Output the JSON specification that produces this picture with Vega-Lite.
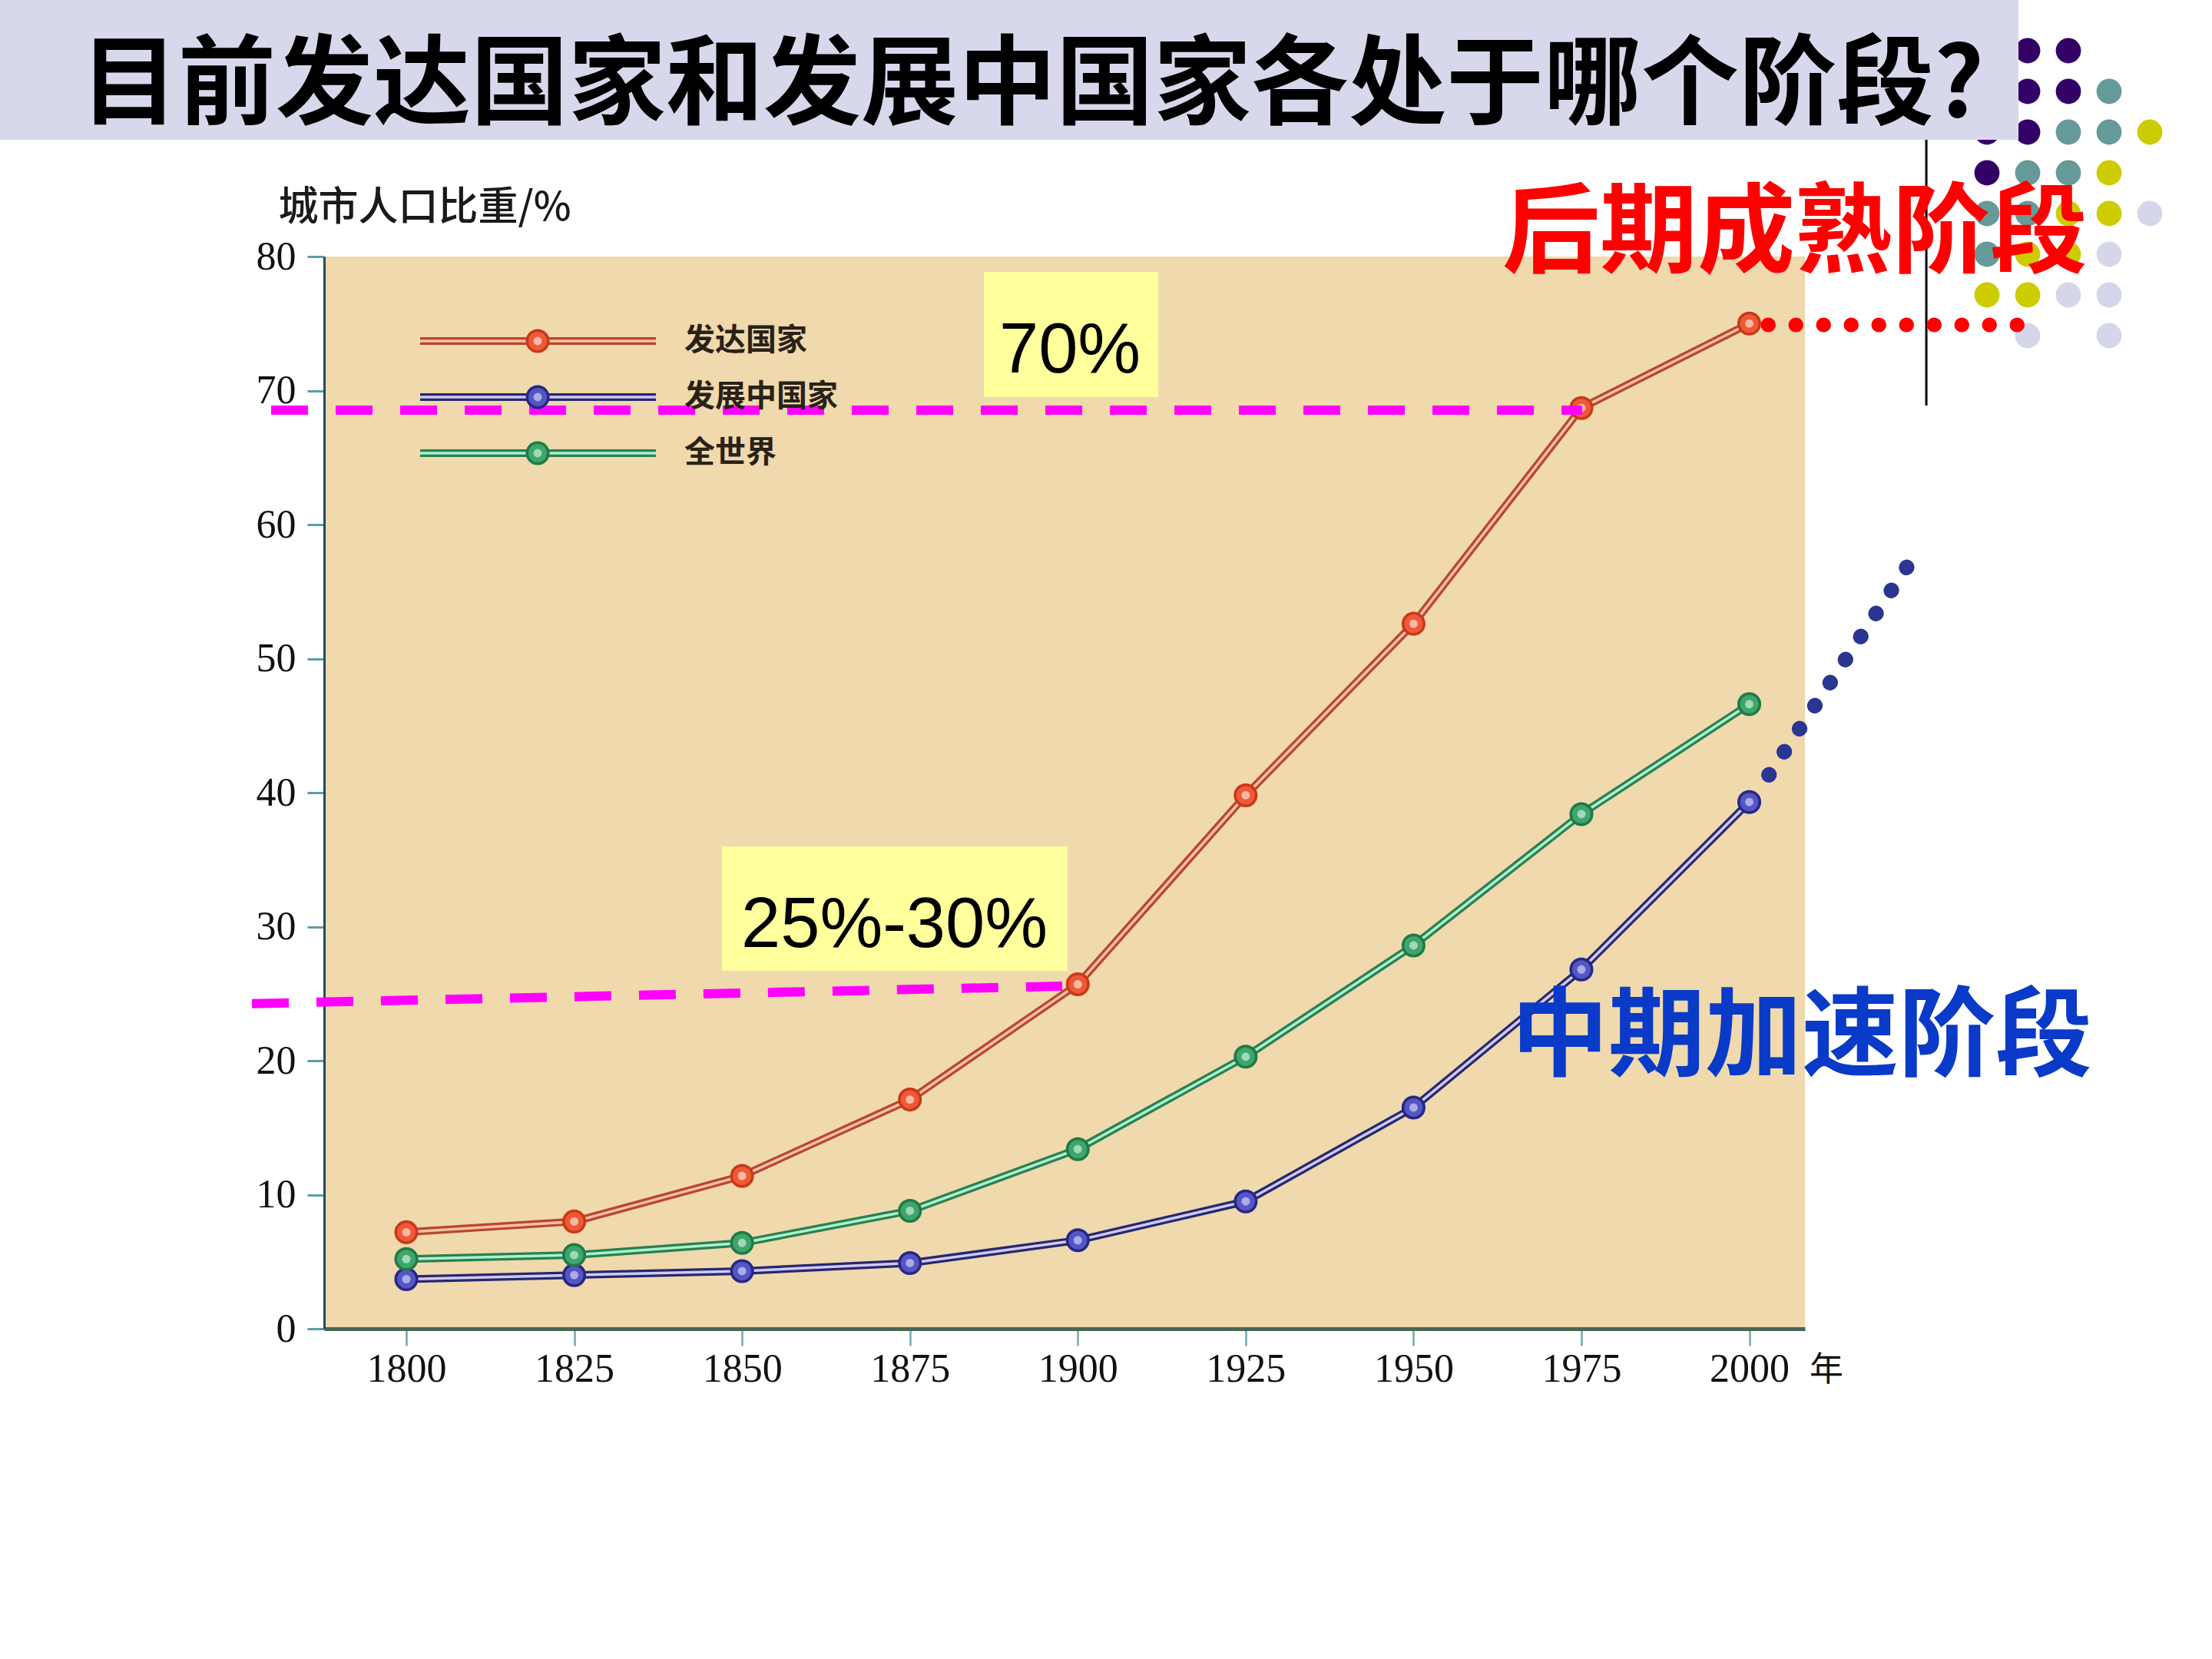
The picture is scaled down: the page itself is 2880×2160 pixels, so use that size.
{
  "$schema": "https://vega.github.io/schema/vega-lite/v6.json",
  "width": 1928,
  "height": 1396,
  "autosize": {"type": "none"},
  "padding": {"left": 422, "top": 334, "right": 530, "bottom": 430},
  "background": "#ffffff",
  "config": {"view": {"fill": "#efd9ad", "stroke": null}},
  "datasets": {
    "urban": [
      {"year": 1800, "series": "发达国家", "pct": 7.2},
      {"year": 1825, "series": "发达国家", "pct": 8.0},
      {"year": 1850, "series": "发达国家", "pct": 11.4},
      {"year": 1875, "series": "发达国家", "pct": 17.1},
      {"year": 1900, "series": "发达国家", "pct": 25.7},
      {"year": 1925, "series": "发达国家", "pct": 39.8},
      {"year": 1950, "series": "发达国家", "pct": 52.6},
      {"year": 1975, "series": "发达国家", "pct": 68.7},
      {"year": 2000, "series": "发达国家", "pct": 75.0},
      {"year": 1800, "series": "发展中国家", "pct": 3.7},
      {"year": 1825, "series": "发展中国家", "pct": 4.0},
      {"year": 1850, "series": "发展中国家", "pct": 4.3},
      {"year": 1875, "series": "发展中国家", "pct": 4.9},
      {"year": 1900, "series": "发展中国家", "pct": 6.6},
      {"year": 1925, "series": "发展中国家", "pct": 9.5},
      {"year": 1950, "series": "发展中国家", "pct": 16.5},
      {"year": 1975, "series": "发展中国家", "pct": 26.8},
      {"year": 2000, "series": "发展中国家", "pct": 39.3},
      {"year": 1800, "series": "全世界", "pct": 5.2},
      {"year": 1825, "series": "全世界", "pct": 5.5},
      {"year": 1850, "series": "全世界", "pct": 6.4},
      {"year": 1875, "series": "全世界", "pct": 8.8},
      {"year": 1900, "series": "全世界", "pct": 13.4},
      {"year": 1925, "series": "全世界", "pct": 20.3},
      {"year": 1950, "series": "全世界", "pct": 28.6},
      {"year": 1975, "series": "全世界", "pct": 38.4},
      {"year": 2000, "series": "全世界", "pct": 46.6}
    ],
    "legend": [
      {"series": "发达国家"},
      {"series": "发展中国家"},
      {"series": "全世界"}
    ],
    "dots": [
      {"col": 2, "row": 1, "tone": "purple"}, {"col": 3, "row": 1, "tone": "purple"},
      {"col": 2, "row": 2, "tone": "purple"}, {"col": 3, "row": 2, "tone": "purple"}, {"col": 4, "row": 2, "tone": "teal"},
      {"col": 1, "row": 3, "tone": "purple"}, {"col": 2, "row": 3, "tone": "purple"}, {"col": 3, "row": 3, "tone": "teal"}, {"col": 4, "row": 3, "tone": "teal"}, {"col": 5, "row": 3, "tone": "yellow"},
      {"col": 1, "row": 4, "tone": "purple"}, {"col": 2, "row": 4, "tone": "teal"}, {"col": 3, "row": 4, "tone": "teal"}, {"col": 4, "row": 4, "tone": "yellow"},
      {"col": 1, "row": 5, "tone": "teal"}, {"col": 2, "row": 5, "tone": "teal"}, {"col": 3, "row": 5, "tone": "yellow"}, {"col": 4, "row": 5, "tone": "yellow"}, {"col": 5, "row": 5, "tone": "lavender"},
      {"col": 1, "row": 6, "tone": "teal"}, {"col": 2, "row": 6, "tone": "yellow"}, {"col": 3, "row": 6, "tone": "yellow"}, {"col": 4, "row": 6, "tone": "lavender"},
      {"col": 1, "row": 7, "tone": "yellow"}, {"col": 2, "row": 7, "tone": "yellow"}, {"col": 3, "row": 7, "tone": "lavender"}, {"col": 4, "row": 7, "tone": "lavender"},
      {"col": 2, "row": 8, "tone": "lavender"}, {"col": 4, "row": 8, "tone": "lavender"}
    ]
  },
  "layer": [
    {
      "data": {"name": "dots"},
      "mark": {"type": "circle", "size": 1075, "opacity": 1},
      "encoding": {
        "x": {"field": "col", "type": "quantitative", "scale": {"domain": [1, 5], "range": [2165, 2377], "nice": false, "zero": false}, "axis": null},
        "y": {"field": "row", "type": "quantitative", "scale": {"domain": [1, 8], "range": [-268, 103], "nice": false, "zero": false}, "axis": null},
        "color": {"field": "tone", "type": "nominal", "scale": {"domain": ["purple", "teal", "yellow", "lavender"], "range": ["#330066", "#669999", "#cccc00", "#d6d6ea"]}, "legend": null}
      }
    },
    {
      "layer": [
        {
          "data": {"values": [{}]},
          "mark": {"type": "rect", "fill": "#d8d8ec"},
          "encoding": {
            "x": {"datum": 1739.49},
            "x2": {"datum": 2040.09},
            "y": {"datum": 99.14},
            "y2": {"datum": 88.71}
          }
        },
        {
          "data": {"values": [{"label": "目前发达国家和发展中国家各处于哪个阶段?"}]},
          "mark": {"type": "text", "font": "Noto Sans CJK SC", "fontWeight": "bold", "fontSize": 127, "align": "left", "baseline": "alphabetic", "color": "#000000"},
          "encoding": {
            "x": {"datum": 1751.5},
            "y": {"datum": 90.43},
            "text": {"field": "label"}
          }
        },
        {
          "data": {"values": [{"label": "70%"}]},
          "mark": {"type": "rect", "fill": "#ffff9c"},
          "encoding": {
            "x": {"datum": 1886.02},
            "x2": {"datum": 1911.99},
            "y": {"datum": 78.85},
            "y2": {"datum": 69.51}
          }
        },
        {
          "data": {"values": [{"label": "25%-30%"}]},
          "mark": {"type": "rect", "fill": "#ffff9c"},
          "encoding": {
            "x": {"datum": 1847.01},
            "x2": {"datum": 1898.48},
            "y": {"datum": 35.99},
            "y2": {"datum": 26.7}
          }
        },
        {
          "data": {"name": "urban"},
          "mark": {"type": "line", "strokeWidth": 10},
          "encoding": {
            "x": {
              "field": "year", "type": "quantitative",
              "scale": {"domain": [1787.76, 2008.29], "nice": false, "zero": false},
              "axis": {
                "values": [1800, 1825, 1850, 1875, 1900, 1925, 1950, 1975, 2000],
                "format": "d", "title": null, "grid": false,
                "domainColor": "#4a6657", "domainWidth": 5,
                "tickColor": "#6fa9b0", "tickWidth": 2.5, "tickSize": 22,
                "labelFont": "Liberation Serif", "labelFontSize": 52, "labelColor": "#111111",
                "labelPadding": 5, "labelFlush": false, "labelOverlap": false
              }
            },
            "y": {
              "field": "pct", "type": "quantitative",
              "scale": {"domain": [0, 80], "nice": false, "zero": false},
              "axis": {
                "values": [0, 10, 20, 30, 40, 50, 60, 70, 80],
                "title": "城市人口比重/%", "titleAngle": 0, "titleAlign": "left", "titleBaseline": "middle",
                "titleX": -60, "titleY": -64, "titleFont": "Noto Sans CJK SC", "titleFontSize": 52,
                "titleFontWeight": 500, "titleColor": "#1a1a1a",
                "grid": false, "domainColor": "#1f4e5e", "domainWidth": 3,
                "tickColor": "#5f9ca6", "tickWidth": 3, "tickSize": 22,
                "labelFont": "Liberation Serif", "labelFontSize": 52, "labelColor": "#111111",
                "labelPadding": 15, "labelFlush": false, "labelOverlap": false
              }
            },
            "color": {"field": "series", "type": "nominal", "scale": {"domain": ["发达国家", "发展中国家", "全世界"], "range": ["#b8472b", "#27276e", "#2a7f50"]}, "legend": null}
          }
        },
        {
          "data": {"name": "urban"},
          "mark": {"type": "line", "strokeWidth": 3.5},
          "encoding": {
            "x": {"field": "year", "type": "quantitative"},
            "y": {"field": "pct", "type": "quantitative"},
            "color": {"field": "series", "type": "nominal", "scale": {"domain": ["发达国家", "发展中国家", "全世界"], "range": ["#f7c0a6", "#cfcaf5", "#a9f2cf"]}, "legend": null}
          }
        },
        {
          "data": {"name": "urban"},
          "mark": {"type": "point", "shape": "circle", "filled": true, "size": 760, "strokeWidth": 3.5, "opacity": 1},
          "encoding": {
            "x": {"field": "year", "type": "quantitative"},
            "y": {"field": "pct", "type": "quantitative"},
            "fill": {"field": "series", "type": "nominal", "scale": {"domain": ["发达国家", "发展中国家", "全世界"], "range": ["#ee5a36", "#5555c4", "#3fa56d"]}, "legend": null},
            "stroke": {"field": "series", "type": "nominal", "scale": {"domain": ["发达国家", "发展中国家", "全世界"], "range": ["#c8381a", "#262685", "#1f7a45"]}, "legend": null}
          }
        },
        {
          "data": {"name": "urban"},
          "mark": {"type": "circle", "size": 120, "opacity": 0.9},
          "encoding": {
            "x": {"field": "year", "type": "quantitative"},
            "y": {"field": "pct", "type": "quantitative"},
            "color": {"field": "series", "type": "nominal", "scale": {"domain": ["发达国家", "发展中国家", "全世界"], "range": ["#f9c2b0", "#b5b5ee", "#a8dfc0"]}, "legend": null}
          }
        },
        {
          "data": {"values": [{}]},
          "mark": {"type": "rule", "color": "#ff00ff", "strokeWidth": 12, "strokeDash": [48, 36], "strokeCap": "butt"},
          "encoding": {
            "x": {"datum": 1779.87},
            "x2": {"datum": 1975.12},
            "y": {"datum": 68.54}
          }
        },
        {
          "data": {"values": [{}]},
          "mark": {"type": "rule", "color": "#ff00ff", "strokeWidth": 12, "strokeDash": [48, 36], "strokeCap": "butt"},
          "encoding": {
            "x": {"datum": 1777.01},
            "y": {"datum": 24.26},
            "x2": {"datum": 1897.68},
            "y2": {"datum": 25.56}
          }
        },
        {
          "data": {"values": [{"label": "70%"}]},
          "mark": {"type": "text", "font": "Liberation Sans", "fontSize": 92, "align": "center", "baseline": "alphabetic", "color": "#000000"},
          "encoding": {
            "x": {"datum": 1898.83},
            "y": {"datum": 71.35},
            "text": {"field": "label"}
          }
        },
        {
          "data": {"values": [{"label": "25%-30%"}]},
          "mark": {"type": "text", "font": "Liberation Sans", "fontSize": 92, "align": "center", "baseline": "alphabetic", "color": "#000000"},
          "encoding": {
            "x": {"datum": 1872.69},
            "y": {"datum": 28.5},
            "text": {"field": "label"}
          }
        },
        {
          "data": {"values": [{}]},
          "mark": {"type": "rule", "color": "#000000", "strokeWidth": 3},
          "encoding": {
            "x": {"datum": 2026.37},
            "y": {"datum": 88.71},
            "y2": {"datum": 68.88}
          }
        },
        {
          "data": {"values": [{"label": "后期成熟阶段"}]},
          "mark": {"type": "text", "font": "Noto Sans CJK SC", "fontWeight": "bold", "fontSize": 127, "align": "left", "baseline": "alphabetic", "color": "#ff0000"},
          "encoding": {
            "x": {"datum": 1963.22},
            "y": {"datum": 79.37},
            "text": {"field": "label"}
          }
        },
        {
          "data": {"values": [{"label": "中期加速阶段"}]},
          "mark": {"type": "text", "font": "Noto Sans CJK SC", "fontWeight": "bold", "fontSize": 126, "align": "left", "baseline": "alphabetic", "color": "#0a3ac8"},
          "encoding": {
            "x": {"datum": 1964.6},
            "y": {"datum": 19.43},
            "text": {"field": "label"}
          }
        },
        {
          "data": {"values": [{}]},
          "mark": {"type": "rule", "color": "#ff0000", "strokeWidth": 19, "strokeDash": [0.5, 35.5], "strokeCap": "round"},
          "encoding": {
            "x": {"datum": 2002.8},
            "x2": {"datum": 2040.1},
            "y": {"datum": 74.9}
          }
        },
        {
          "data": {"values": [{}]},
          "mark": {"type": "rule", "color": "#2b3592", "strokeWidth": 20, "strokeDash": [0.5, 35.5], "strokeCap": "round"},
          "encoding": {
            "x": {"datum": 2002.92},
            "y": {"datum": 41.32},
            "x2": {"datum": 2023.7},
            "y2": {"datum": 57.0}
          }
        },
        {
          "data": {"values": [{"label": "年"}]},
          "mark": {"type": "text", "font": "Noto Sans CJK SC", "fontSize": 44, "align": "center", "baseline": "alphabetic", "color": "#111111"},
          "encoding": {
            "x": {"datum": 2011.49},
            "y": {"datum": -3.9},
            "text": {"field": "label"}
          }
        }
      ],
      "resolve": {"scale": {"color": "independent", "fill": "independent", "stroke": "independent"}}
    },
    {
      "data": {"name": "legend"},
      "encoding": {
        "y": {"field": "series", "type": "nominal", "scale": {"type": "point", "domain": ["发达国家", "发展中国家", "全世界"], "range": [110, 256], "padding": 0}, "axis": null}
      },
      "layer": [
        {
          "mark": {"type": "rule", "strokeWidth": 10},
          "encoding": {
            "x": {"datum": 1802.06, "scale": {"domain": [1787.76, 2008.29], "nice": false, "zero": false}, "axis": null},
            "x2": {"datum": 1837.17},
            "color": {"field": "series", "type": "nominal", "scale": {"domain": ["发达国家", "发展中国家", "全世界"], "range": ["#b8472b", "#27276e", "#2a7f50"]}, "legend": null}
          }
        },
        {
          "mark": {"type": "rule", "strokeWidth": 3.5},
          "encoding": {
            "x": {"datum": 1802.06},
            "x2": {"datum": 1837.17},
            "color": {"field": "series", "type": "nominal", "scale": {"domain": ["发达国家", "发展中国家", "全世界"], "range": ["#f7c0a6", "#cfcaf5", "#a9f2cf"]}, "legend": null}
          }
        },
        {
          "mark": {"type": "point", "shape": "circle", "filled": true, "size": 760, "strokeWidth": 3.5, "opacity": 1},
          "encoding": {
            "x": {"datum": 1819.56},
            "fill": {"field": "series", "type": "nominal", "scale": {"domain": ["发达国家", "发展中国家", "全世界"], "range": ["#ee5a36", "#5555c4", "#3fa56d"]}, "legend": null},
            "stroke": {"field": "series", "type": "nominal", "scale": {"domain": ["发达国家", "发展中国家", "全世界"], "range": ["#c8381a", "#262685", "#1f7a45"]}, "legend": null}
          }
        },
        {
          "mark": {"type": "circle", "size": 120, "opacity": 0.9},
          "encoding": {
            "x": {"datum": 1819.56},
            "color": {"field": "series", "type": "nominal", "scale": {"domain": ["发达国家", "发展中国家", "全世界"], "range": ["#f9c2b0", "#b5b5ee", "#a8dfc0"]}, "legend": null}
          }
        },
        {
          "mark": {"type": "text", "font": "Noto Sans CJK SC", "fontWeight": "bold", "fontSize": 40, "align": "left", "baseline": "middle", "color": "#2a2118"},
          "encoding": {
            "x": {"datum": 1841.41},
            "text": {"field": "series"}
          }
        }
      ],
      "resolve": {"scale": {"color": "independent", "fill": "independent", "stroke": "independent"}}
    }
  ],
  "resolve": {
    "scale": {"x": "independent", "y": "independent", "color": "independent", "fill": "independent", "stroke": "independent"},
    "axis": {"x": "independent", "y": "independent"}
  }
}
